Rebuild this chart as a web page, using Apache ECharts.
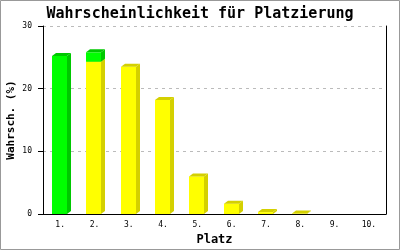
<!DOCTYPE html>
<html>
<head>
<meta charset="utf-8">
<script src="https://cdn.jsdelivr.net/npm/echarts@6/dist/echarts.min.js"></script>
<style>html,body{margin:0;padding:0;background:#fff}#c{width:400px;height:250px}</style>
</head>
<body>
<div id="c"></div>
<script>
const categories = ['1.', '2.', '3.', '4.', '5.', '6.', '7.', '8.', '9.', '10.'];
const yellowValues = [0, 24.3, 23.5, 18.2, 6.0, 1.65, 0.3, 0.08, 0, 0];
const greenValues = [25.2, 1.5, 0, 0, 0, 0, 0, 0, 0, 0];
const yTicks = [0, 10, 20, 30];

const FONT = 'DejaVu Sans Mono';
const DX = 4, DY = 3, FW = 15;

function make3d(front, side) {
  return function (params, api) {
    const i = api.value(0), base = api.value(1), top = api.value(2);
    if (top - base <= 0) return null;
    const pTop = api.coord([i, top]);
    const pBase = api.coord([i, base]);
    const x0 = Math.round(pTop[0]) - 8, x1 = x0 + FW;
    const yT = pTop[1], yB = pBase[1];
    return {
      type: 'group',
      children: [
        { type: 'rect', shape: { x: x0, y: yT, width: FW, height: yB - yT }, style: { fill: front } },
        { type: 'polygon', shape: { points: [[x1, yB], [x1, yT], [x1 + DX, yT - DY], [x1 + DX, yB - DY]] }, style: { fill: side } },
        { type: 'polygon', shape: { points: [[x0, yT], [x0 + DX, yT - DY], [x1 + DX, yT - DY], [x1, yT]] }, style: { fill: side } }
      ]
    };
  };
}

const yellowData = yellowValues.map((v, i) => [i, 0, v]);
const greenData = greenValues.map((v, i) => [i, yellowValues[i], yellowValues[i] + v]);

const chart = echarts.init(document.getElementById('c'), null, { renderer: 'canvas' });
chart.setOption({
  animation: false,
  backgroundColor: '#fff',
  textStyle: { fontFamily: FONT },
  title: {
    text: 'Wahrscheinlichkeit für Platzierung',
    left: 'center', top: 2,
    textStyle: { fontFamily: FONT, fontWeight: 'bold', fontSize: 15, color: '#000' }
  },
  graphic: [{
    type: 'rect', silent: true, z: 100,
    shape: { x: 0.5, y: 0.5, width: 399, height: 249 },
    style: { fill: 'none', stroke: '#999', lineWidth: 1 }
  }],
  grid: { left: 43, right: 14, top: 26, bottom: 36, containLabel: false, outerBoundsMode: 'none' },
  xAxis: {
    type: 'category', data: categories, boundaryGap: true,
    name: 'Platz', nameLocation: 'middle', nameGap: 20, nameMoveOverlap: false,
    nameTextStyle: { fontFamily: FONT, fontWeight: 'bold', fontSize: 12, color: '#000' },
    axisLine: { lineStyle: { color: '#000', width: 1 } },
    axisTick: { show: false },
    axisLabel: { fontFamily: FONT, fontSize: 8, color: '#000', margin: 7 },
    splitLine: { show: false }
  },
  yAxis: [{
    type: 'value', min: 0, max: 30, interval: 10,
    name: 'Wahrsch. (%)', nameLocation: 'middle', nameGap: 26, nameRotate: 90, nameMoveOverlap: false,
    nameTextStyle: { fontFamily: FONT, fontWeight: 'bold', fontSize: 11, color: '#000' },
    axisLine: { show: true, lineStyle: { color: '#000', width: 1 } },
    axisTick: { show: true, inside: false, length: 5, lineStyle: { color: '#000' } },
    axisLabel: { fontFamily: FONT, fontSize: 8, color: '#000', margin: 11,
      formatter: v => yTicks.includes(v) ? String(v) : '' },
    splitLine: { show: true, lineStyle: { color: '#bbb', type: [3, 4], width: 1 } }
  }, {
    type: 'value', min: 0, max: 30, interval: 10, position: 'right',
    axisLine: { show: true, lineStyle: { color: '#000', width: 1 } },
    axisTick: { show: false }, axisLabel: { show: false }, splitLine: { show: false }
  }],
  series: [
    { type: 'custom', renderItem: make3d('#ffff00', '#d4d000'), data: yellowData, encode: { x: 0, y: [1, 2] }, z: 2 },
    { type: 'custom', renderItem: make3d('#00ff00', '#00c800'), data: greenData, encode: { x: 0, y: [1, 2] }, z: 3 }
  ]
});
</script>
</body>
</html>
